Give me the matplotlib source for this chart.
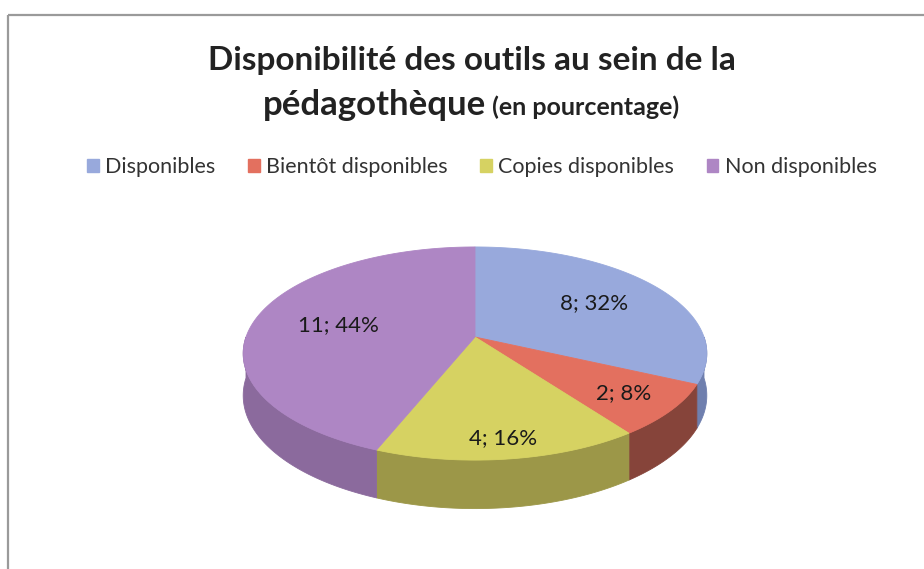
import numpy as np
import matplotlib.pyplot as plt
from matplotlib.patches import Polygon, Rectangle, Patch

# données du graphique
categories = ["Disponibles", "Bientôt disponibles", "Copies disponibles", "Non disponibles"]
valeurs = [8, 2, 4, 11]
etiquettes = ["8; 32%", "2; 8%", "4; 16%", "11; 44%"]

couleurs = ["#98a9dc", "#e3705f", "#d6d262", "#ae86c4"]
couleurs_cote = ["#6f7fae", "#86443a", "#9c9748", "#8b6a9d"]
rayon_etiquette = [0.65, 0.78, 0.85, 0.62]

plt.rcParams['font.family'] = ['Lato', 'DejaVu Sans']

fig = plt.figure(figsize=(9.24, 5.69), dpi=100)
ax = fig.add_axes([0, 0, 1, 1])
ax.set_xlim(0, 924)
ax.set_ylim(569, 0)
ax.axis('off')

# cadre gris
ax.add_patch(Rectangle((8, 15), 930, 570, fill=False, edgecolor="#9a9a9a", lw=1.6))

# géométrie du camembert 3D (perspective simple)
cx, cy, rx, ry, k, prof = 475, 337, 229, 104, 0.155, 41


def projeter(theta, r=1.0, h=0.0):
    u = r * np.cos(np.radians(theta))
    v = -r * np.sin(np.radians(theta))
    s = 1 / (1 - k * v)
    return cx + rx * u * s, cy + ry * v * s + h * s


total = sum(valeurs)
bornes = 90 - 360 * np.cumsum([0] + valeurs) / total

# côtés (partie avant seulement)
for i in range(len(valeurs)):
    a = max(bornes[i + 1], -180)
    b = min(bornes[i], 0)
    if a >= b:
        continue
    t = np.linspace(a, b, 80)
    xh, yh = projeter(t)
    xb, yb = projeter(t, h=prof)
    pts = np.column_stack([np.concatenate([xh, xb[::-1]]), np.concatenate([yh, yb[::-1]])])
    ax.add_patch(Polygon(pts, closed=True, facecolor=couleurs_cote[i],
                         edgecolor=couleurs_cote[i], lw=0.6))

# faces du dessus
for i in range(len(valeurs)):
    t = np.linspace(bornes[i], bornes[i + 1], 120)
    x, y = projeter(t)
    pts = np.column_stack([np.concatenate([[cx], x]), np.concatenate([[cy], y])])
    ax.add_patch(Polygon(pts, closed=True, facecolor=couleurs[i],
                         edgecolor=couleurs[i], lw=0.6))

# étiquettes
for i in range(len(valeurs)):
    milieu = (bornes[i] + bornes[i + 1]) / 2
    x, y = projeter(milieu, r=rayon_etiquette[i])
    ax.text(x, y, etiquettes[i], ha='center', va='center', fontsize=16, color="#1a1a1a")

# titre
ax.text(472, 60, "Disponibilité des outils au sein de la", ha='center', va='center',
        fontsize=24, fontweight='bold', color="#222222")
t1 = ax.text(0, 105, "pédagothèque", ha='left', va='center', fontsize=25,
             fontweight='bold', color="#222222")
t2 = ax.text(0, 107, " (en pourcentage)", ha='left', va='center', fontsize=18,
             fontweight='bold', color="#222222")
fig.canvas.draw()
r = fig.canvas.get_renderer()
w1 = t1.get_window_extent(r).width
w2 = t2.get_window_extent(r).width
x0 = 471 - (w1 + w2) / 2
t1.set_x(x0)
t2.set_x(x0 + w1)

# légende
poignees = [Patch(facecolor=c, edgecolor=c) for c in couleurs]
fig.legend(poignees, categories, loc='center', bbox_to_anchor=(482 / 924, 1 - 167 / 569),
           ncol=4, frameon=False, fontsize=15.5, handlelength=0.55, handleheight=0.55,
           handletextpad=0.3, columnspacing=1.5, labelcolor="#333333")

fig.savefig("out.png", dpi=100)
